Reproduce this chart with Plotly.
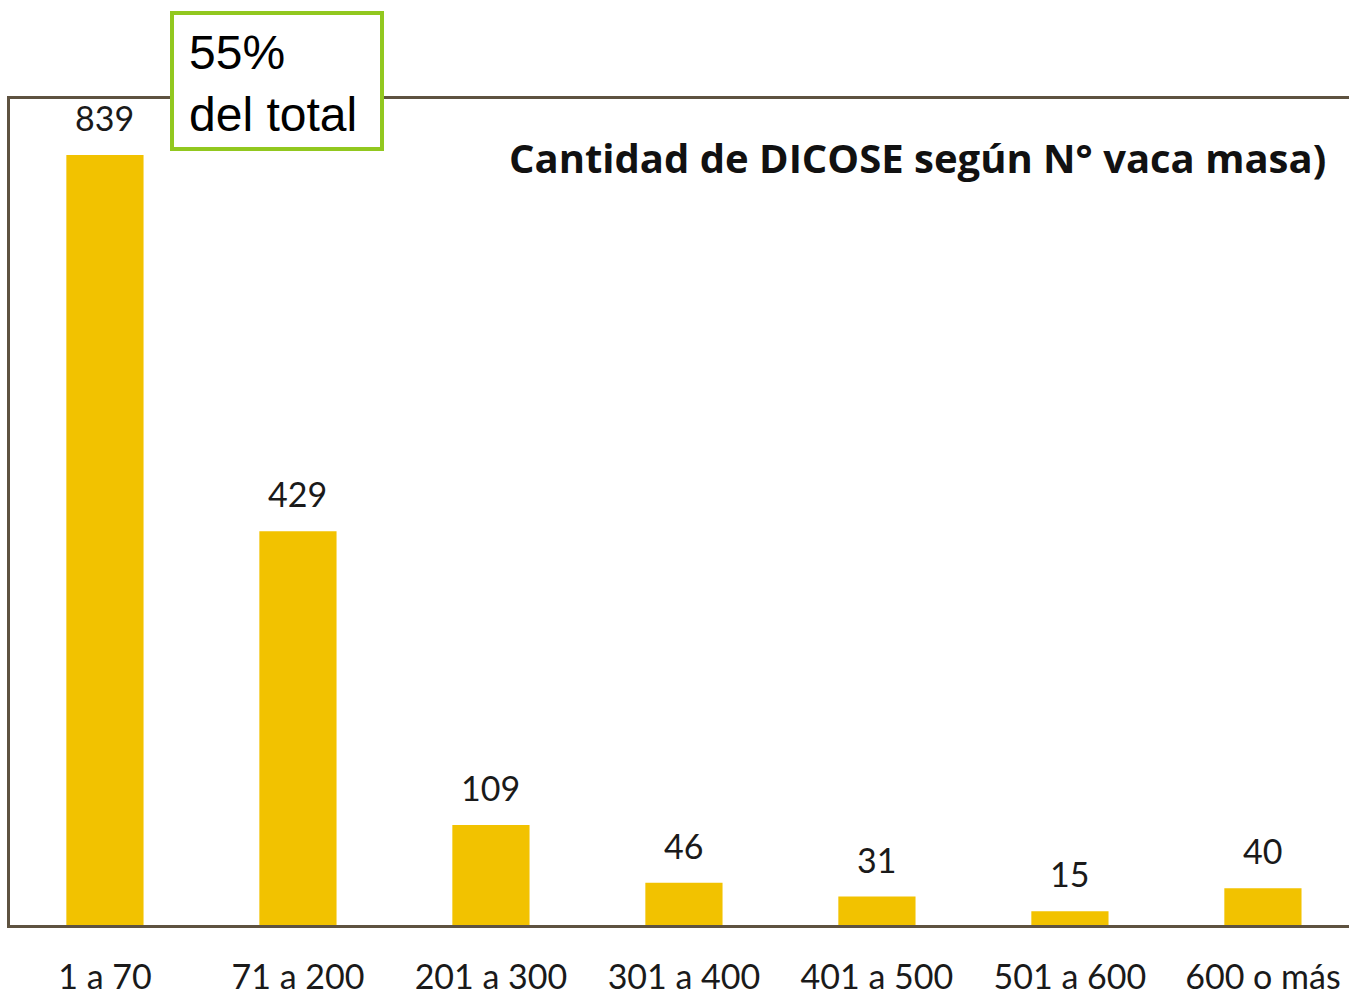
import plotly.graph_objects as go

categories = ["1 a 70", "71 a 200", "201 a 300", "301 a 400", "401 a 500", "501 a 600", "600 o más"]
values = [839, 429, 109, 46, 31, 15, 40]
title_text = "Cantidad de DICOSE según N° vaca masa)"
box_text = "55%<br>del total"

W, H = 1349, 996
L, R, T, B = 10, 0, 99, 71
PW, PH = W - L - R, H - T - B

def px(x):
    return (x - L) / PW

def py(y):
    return (H - B - y) / PH

BAR = "#F2C200"
FRAME = "#5E5240"
GREEN = "#92C81F"
FONT = "Lato, 'Open Sans', sans-serif"

fig = go.Figure()
fig.add_trace(go.Bar(x=categories, y=values, marker_color=BAR, marker_line_width=0, width=0.4,
                     hoverinfo="skip"))

for c, v in zip(categories, values):
    fig.add_annotation(x=c, y=v, text=str(v), showarrow=False, yanchor="bottom", yshift=15,
                       font=dict(family=FONT, size=34, color="#1a1a1a"))

fig.add_annotation(xref="paper", yref="paper", x=px(1328), y=py(158), xanchor="right", yanchor="middle",
                   text="<b>" + title_text + "</b>", showarrow=False,
                   font=dict(family="'Open Sans', sans-serif", size=40, color="#111111"))

fig.add_shape(type="rect", xref="paper", yref="paper", x0=px(172), x1=px(382), y0=py(149), y1=py(13),
              line=dict(color=GREEN, width=4), fillcolor="white", layer="above")
fig.add_annotation(xref="paper", yref="paper", x=px(187), y=py(83), xanchor="left", yanchor="middle",
                   text=box_text, align="left", showarrow=False,
                   font=dict(family="Arial, 'Liberation Sans', sans-serif", size=48, color="#000000"))

fig.update_layout(
    width=W, height=H, margin=dict(l=L, r=R, t=T, b=B, pad=0, autoexpand=False),
    paper_bgcolor="white", plot_bgcolor="white", showlegend=False,
    xaxis=dict(range=[-0.492, 6.446], showline=True, linecolor=FRAME, linewidth=3, mirror=True,
               ticks="", showgrid=False, ticklabelstandoff=20, automargin=False,
               tickfont=dict(family=FONT, size=34, color="#1a1a1a")),
    yaxis=dict(range=[0, 900], showline=True, linecolor=FRAME, linewidth=3, showgrid=False,
               showticklabels=False, ticks="", zeroline=False, automargin=False),
)

fig.write_html("out.html", config={"displayModeBar": False},
               post_script="document.body.style.margin='0';document.body.style.overflow='hidden';")
